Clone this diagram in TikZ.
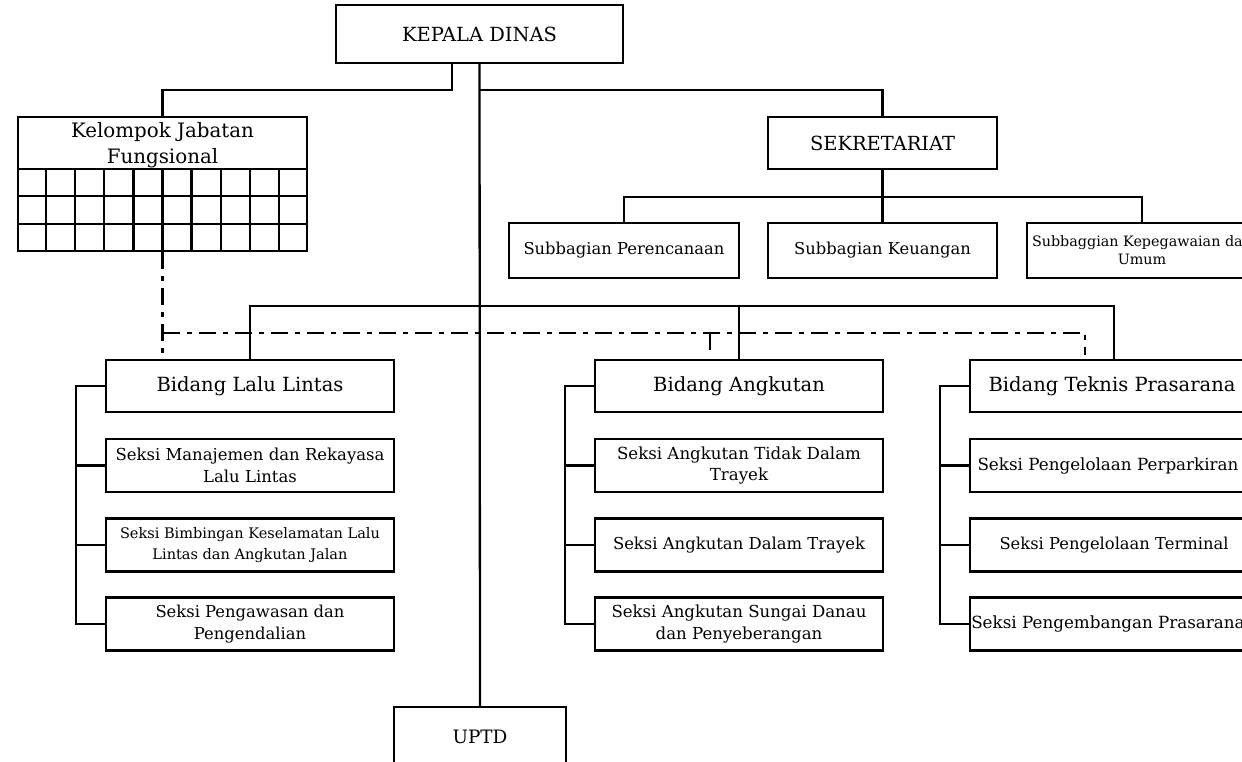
\documentclass[tikz,border=0pt]{standalone}
\usepackage{fontspec}
\setmainfont{DejaVu Serif}
\usetikzlibrary{calc}
\newlength\fwlen
\newcommand\fitto[3][1.3]{%
  \settowidth\fwlen{\fontsize{10pt}{12pt}\selectfont #3}%
  \pgfmathsetmacro\fsz{10*#2/\fwlen}%
  \pgfmathsetmacro\fbs{#1*\fsz}%
  \fontsize{\fsz pt}{\fbs pt}\selectfont}
\tikzset{
  box/.style={draw, line width=2.3pt, align=center, inner sep=0pt},
  ln/.style={line width=2.3pt},
  dd/.style={line width=2.3pt, dash pattern=on 17pt off 7pt on 5pt off 7pt},
}
\begin{document}
\begin{tikzpicture}[x=1pt,y=-1pt]
\useasboundingbox (0,0) rectangle (1242,762);
% top
\node[box, minimum width=287pt, minimum height=58pt, font={\fitto{155}{KEPALA DINAS}}] (kd) at (479.5,34) {KEPALA DINAS};
\node[box, minimum width=289pt, minimum height=52pt] (kel) at (162.5,143) {};
\node[align=center, inner sep=0pt, font={\fitto[1.3]{183}{Kelompok Jabatan}}] (kelt) at ([yshift=-2.5pt]kel.center) {Kelompok Jabatan\\Fungsional};
\node[box, minimum width=289pt, minimum height=82pt] (kelg) at (162.5,210) {};
\foreach \i in {1,...,9}
  \draw[ln] ($(kelg.north west)!\i/10!(kelg.north east)$) -- ($(kelg.south west)!\i/10!(kelg.south east)$);
\foreach \i in {1,2}
  \draw[ln] ($(kelg.north west)!\i/3!(kelg.south west)$) -- ($(kelg.north east)!\i/3!(kelg.south east)$);
\node[box, minimum width=229pt, minimum height=52pt, font={\fitto{145}{SEKRETARIAT}}] (sek) at (882.5,143) {SEKRETARIAT};
\node[box, minimum width=230pt, minimum height=55pt, font={\fitto{201}{Subbagian Perencanaan}}] (sp) at (624,250.5) {Subbagian Perencanaan};
\node[box, minimum width=229pt, minimum height=55pt, font={\fitto{201}{Subbagian Perencanaan}}] (sk) at (882.5,250.5) {Subbagian Keuangan};
\node[box, minimum width=230pt, minimum height=55pt, font={\fitto[1.25]{220}{Subbaggian Kepegawaian dan}}] (skp) at (1142,250.5) {Subbaggian Kepegawaian dan\\Umum};
% bidang
\node[box, minimum width=288pt, minimum height=52pt, font={\fitto{187}{Bidang Lalu Lintas}}] (bll) at (250,386) {Bidang Lalu Lintas};
\node[box, minimum width=288pt, minimum height=52pt, font={\fitto{187}{Bidang Lalu Lintas}}] (ba) at (739,386) {Bidang Angkutan};
\node[box, minimum width=288pt, minimum height=52pt, font={\fitto{187}{Bidang Lalu Lintas}}] (bt) at (1114,386) {Bidang Teknis Prasarana\hspace*{4pt}};
% seksi lalu lintas
\node[box, minimum width=288pt, minimum height=53pt, font={\fitto{269}{Seksi Manajemen dan Rekayasa}}] (l1) at (250,465.5) {Seksi Manajemen dan Rekayasa\\Lalu Lintas};
\node[box, minimum width=288pt, minimum height=53pt, font={\fitto[1.4]{260}{Seksi Bimbingan Keselamatan Lalu}}] (l2) at (250,545) {Seksi Bimbingan Keselamatan Lalu\\Lintas dan Angkutan Jalan};
\node[box, minimum width=288pt, minimum height=53pt, font={\fitto{189}{Seksi Pengawasan dan}}] (l3) at (250,624) {Seksi Pengawasan dan\\Pengendalian};
% seksi angkutan
\node[box, minimum width=288pt, minimum height=53pt, font={\fitto{244}{Seksi Angkutan Tidak Dalam}}] (a1) at (739,465.5) {Seksi Angkutan Tidak Dalam\\Trayek};
\node[box, minimum width=288pt, minimum height=53pt, font={\fitto{252}{Seksi Angkutan Dalam Trayek}}] (a2) at (739,545) {Seksi Angkutan Dalam Trayek};
\node[box, minimum width=288pt, minimum height=53pt, font={\fitto{255}{Seksi Angkutan Sungai Danau}}] (a3) at (739,624) {Seksi Angkutan Sungai Danau\\dan Penyeberangan};
% seksi teknis
\node[box, minimum width=288pt, minimum height=53pt, font={\fitto{261}{Seksi Pengelolaan Perparkiran}}] (t1) at (1114,465.5) {Seksi Pengelolaan Perparkiran\hspace*{12pt}};
\node[box, minimum width=288pt, minimum height=53pt, font={\fitto{229}{Seksi Pengelolaan Terminal}}] (t2) at (1114,545) {Seksi Pengelolaan Terminal};
\node[box, minimum width=288pt, minimum height=53pt, font={\fitto{261}{Seksi Pengelolaan Perparkiran}}] (t3) at (1114,624) {Seksi Pengembangan Prasarana\hspace*{12pt}};
% uptd
\node[box, minimum width=172pt, minimum height=60pt, font={\fitto{55}{UPTD}}] (uptd) at (480,737) {UPTD};
% junctions
\coordinate (j0) at (452,90);
\coordinate (j1) at (480,90);
\coordinate (j2) at (882.5,197);
\coordinate (j3) at (480,306);
\coordinate (d0) at (162.5,333);
\coordinate (dl) at (162.5,355);
\coordinate (dm) at (710,333);
\coordinate (dmb) at (710,355);
\coordinate (dr) at (1085,333);
\coordinate (drb) at (1085,355);
% connectors
\draw[ln] (kd.south -| j0) -- (j0) -| (kel.north);
\draw[ln] (kd.south) -- (uptd.north);
\draw[ln] (j1) -| (sek.north);
\draw[ln] (sek.south) -- (sk.north);
\draw[ln] (sp.north) |- (j2) -| (skp.north);
\draw[ln] (bll.north) |- (j3) -| (bt.north);
\draw[ln] (ba.north) -- (ba.north |- j3);
% dash-dot
\draw[dd] (kelg.south) -- (dl);
\draw[dd] (d0) -- (dr) -- (drb);
\draw[dd] (dm) -- (dmb);
% side buses
\foreach \b/\s in {bll/l, ba/a, bt/t}{
  \draw[ln] (\b.west) -- ++(-29,0) coordinate (bus\b) -- (bus\b |- \s3.west) -- (\s3.west);
  \draw[ln] (\s1.west) -- (\s1.west -| bus\b);
  \draw[ln] (\s2.west) -- (\s2.west -| bus\b);
}
\end{tikzpicture}
\end{document}
